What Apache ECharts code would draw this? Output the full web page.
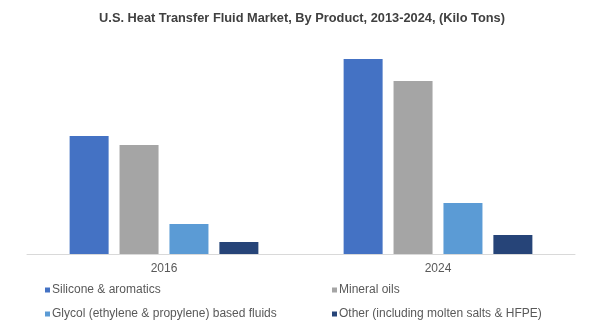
<!DOCTYPE html>
<html><head><meta charset="utf-8">
<script src="https://cdn.jsdelivr.net/npm/echarts@6/dist/echarts.min.js"></script>
<style>html,body{margin:0;padding:0;background:#fff}#c{width:604px;height:336px}</style>
</head><body><div id="c"></div>
<script>
const categories = ['2016', '2024'];
const seriesNames = ['Silicone & aromatics', 'Mineral oils', 'Glycol (ethylene & propylene) based fluids', 'Other (including molten salts & HFPE)'];
const silicone = [118, 195];
const mineral = [109, 173];
const glycol = [30, 51];
const other = [12, 19];
const colors = ['#4472C4', '#A5A5A5', '#5B9BD5', '#264478'];

const values = [silicone, mineral, glycol, other];
const chart = echarts.init(document.getElementById('c'));
const legendText = {color: '#595959', fontSize: 12, fontFamily: 'Liberation Sans, Arial, sans-serif', padding: [0, 0, 0, -3]};
chart.setOption({
  animation: false,
  color: colors,
  title: {
    text: 'U.S. Heat Transfer Fluid Market, By Product, 2013-2024, (Kilo Tons)',
    left: 'center', top: 7,
    textStyle: {fontSize: 12.8, fontWeight: 'bold', color: '#404040', fontFamily: 'Liberation Sans, Arial, sans-serif'}
  },
  legend: [
    {data: [seriesNames[0], seriesNames[2]], orient: 'vertical', left: 40, top: 279, itemGap: 12, itemWidth: 5, itemHeight: 5, icon: 'rect', textStyle: legendText},
    {data: [seriesNames[1], seriesNames[3]], orient: 'vertical', left: 327, top: 279, itemGap: 12, itemWidth: 5, itemHeight: 5, icon: 'rect', textStyle: legendText}
  ],
  grid: {left: 27, right: 29, top: 40, bottom: 82, containLabel: false},
  xAxis: {
    type: 'category', data: categories,
    axisLine: {lineStyle: {color: '#d9d9d9'}},
    axisTick: {show: false},
    axisLabel: {color: '#595959', fontSize: 12, margin: 9, fontFamily: 'Liberation Sans, Arial, sans-serif'}
  },
  yAxis: {type: 'value', min: 0, max: 214, show: false, splitLine: {show: false}},
  series: values.map((v, i) => ({
    name: seriesNames[i], type: 'bar', data: v,
    barWidth: 39, barGap: '28%',
    itemStyle: {color: colors[i]}
  }))
});
</script></body></html>
